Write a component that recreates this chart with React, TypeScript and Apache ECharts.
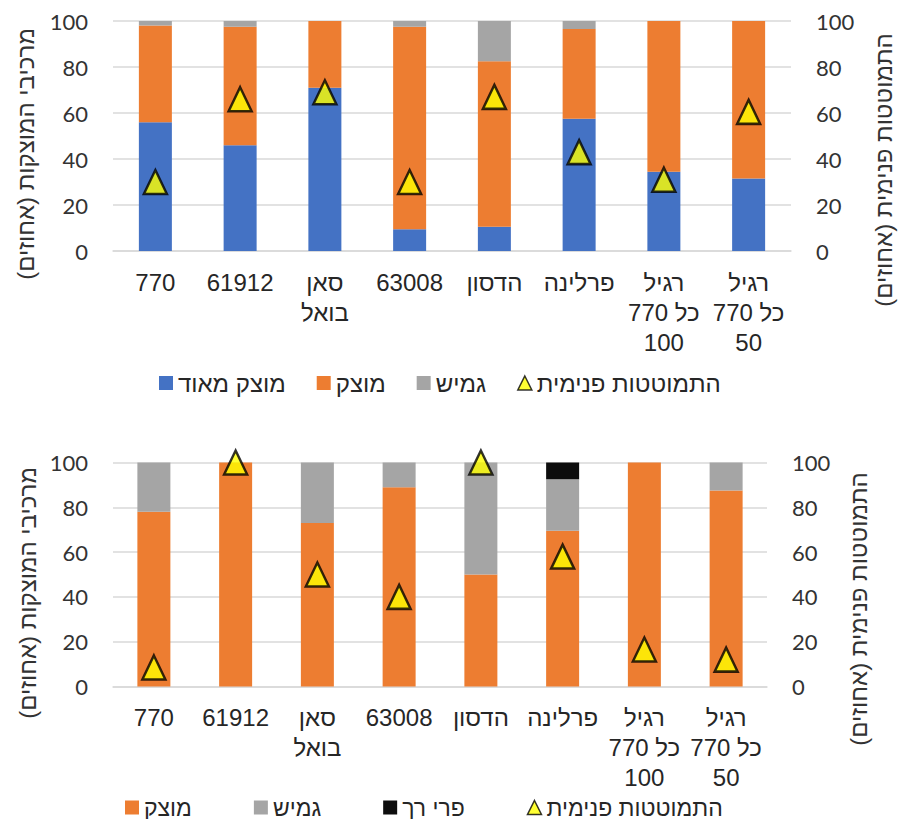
import React, { useEffect, useRef } from 'react';
import * as echarts from 'echarts';

// ---- data ----
const categories = [
  '770',
  '61912',
  'סאן\nבואל',
  '63008',
  'הדסון',
  'פרלינה',
  'רגיל\nכל 770\n100',
  'רגיל\nכל 770\n50',
];

// top chart (percent)
const topVeryFirm = [56, 46, 71, 9.5, 10.5, 57.5, 34.5, 31.5];
const topFirm = [42, 51.5, 29, 88, 72, 39, 65.5, 68.5];
const topFlexible = [2, 2.5, 0, 2.5, 17.5, 3.5, 0, 0];
const topCollapse = [30, 66, 69, 30, 67, 43, 31, 60.5];

// bottom chart (percent)
const botFirm = [78, 100, 73, 89, 50, 69.5, 100, 87.5];
const botFlexible = [22, 0, 27, 11, 50, 23, 0, 12.5];
const botSoft = [0, 0, 0, 0, 0, 7.5, 0, 0];
const botCollapse = [8.5, 100, 50, 40, 100, 58, 16.5, 12];

const nameVeryFirm = 'מוצק מאוד';
const nameFirm = 'מוצק';
const nameFlexible = 'גמיש';
const nameSoft = 'פרי רך';
const nameCollapse = 'התמוטטות פנימית';

const leftTitle = 'מרכיבי המוצקות (אחוזים)\u200F';
const rightTitle = 'התמוטטות פנימית (אחוזים)\u200F';

const BLUE = '#4472C4';
const ORANGE = '#ED7D31';
const GRAY = '#A5A5A5';
const BLACK = '#0D0D0D';
const YELLOW = '#FFFF00';
const GRID = '#D9D9D9';

const HEB = "'Liberation Sans', Arial, sans-serif";
const NUM = "Lato, 'Open Sans', sans-serif";

export default function App() {
  const ref = useRef<HTMLDivElement>(null);

  useEffect(() => {
    if (!ref.current) return;
    const chart = echarts.init(ref.current, undefined, { renderer: 'svg' });

    const yBase = (show: boolean, position: 'left' | 'right', gridIndex: number) => ({
      type: 'value',
      gridIndex,
      position,
      min: 0,
      max: 100,
      interval: 20,
      axisLine: { show: false },
      axisTick: { show: false },
      splitLine: { show, lineStyle: { color: GRID, width: 1.5 } },
      axisLabel: {
        fontSize: 22,
        fontFamily: NUM,
        color: '#333333',
        margin: 25,
      },
    });

    const xBase = (gridIndex: number) => ({
      type: 'category',
      gridIndex,
      data: categories,
      axisTick: { show: false },
      axisLine: { show: true, lineStyle: { color: GRID, width: 1.5 } },
      axisLabel: {
        interval: 0,
        fontSize: 24,
        lineHeight: 30,
        fontFamily: HEB,
        color: '#262626',
        margin: 16,
      },
    });

    const triStyle = {
      color: YELLOW,
      borderColor: '#000000',
      borderWidth: 2.5,
    };

    const titleText = (x: number, y: number, text: string) => ({
      type: 'text',
      x,
      y,
      rotation: Math.PI / 2,
      style: {
        text,
        fontSize: 24,
        fontFamily: HEB,
        fill: '#333333',
        align: 'center',
        verticalAlign: 'middle',
        textAlign: 'center',
        textVerticalAlign: 'middle',
      },
    });

    const option: any = {
      animation: false,
      backgroundColor: '#ffffff',
      grid: [
        { left: 113, top: 21, width: 678, height: 230 },
        { left: 113, top: 462.5, width: 654, height: 224 },
      ],
      xAxis: [xBase(0), xBase(1)],
      yAxis: [
        yBase(true, 'left', 0),
        yBase(false, 'right', 0),
        yBase(true, 'left', 1),
        yBase(false, 'right', 1),
      ],
      legend: [
        {
          left: 154,
          top: 366,
          itemWidth: 14,
          itemHeight: 14,
          itemGap: 31,
          textStyle: { fontSize: 24, fontFamily: HEB, color: '#262626' },
          data: [
            { name: nameVeryFirm, icon: 'rect' },
            { name: nameFirm, icon: 'rect' },
            { name: nameFlexible, icon: 'rect' },
            { name: nameCollapse, icon: 'triangle', itemStyle: { borderWidth: 1.5 } },
          ],
        },
        {
          left: 120,
          top: 791,
          itemWidth: 14,
          itemHeight: 14,
          itemGap: 62,
          textStyle: { fontSize: 23, fontFamily: HEB, color: '#262626' },
          data: [
            { name: nameFirm, icon: 'rect' },
            { name: nameFlexible, icon: 'rect' },
            { name: nameSoft, icon: 'rect' },
            { name: nameCollapse, icon: 'triangle', itemStyle: { borderWidth: 1.5 } },
          ],
        },
      ],
      series: [
        { name: nameVeryFirm, type: 'bar', stack: 'top', xAxisIndex: 0, yAxisIndex: 0, barWidth: 33, itemStyle: { color: BLUE }, data: topVeryFirm },
        { name: nameFirm, type: 'bar', stack: 'top', xAxisIndex: 0, yAxisIndex: 0, barWidth: 33, itemStyle: { color: ORANGE }, data: topFirm },
        { name: nameFlexible, type: 'bar', stack: 'top', xAxisIndex: 0, yAxisIndex: 0, barWidth: 33, itemStyle: { color: GRAY }, data: topFlexible },
        { name: nameCollapse, type: 'scatter', xAxisIndex: 0, yAxisIndex: 1, symbol: 'triangle', symbolSize: [23, 24], itemStyle: triStyle, data: topCollapse, z: 5 },

        { name: nameFirm, type: 'bar', stack: 'bot', xAxisIndex: 1, yAxisIndex: 2, barWidth: 33, itemStyle: { color: ORANGE }, data: botFirm },
        { name: nameFlexible, type: 'bar', stack: 'bot', xAxisIndex: 1, yAxisIndex: 2, barWidth: 33, itemStyle: { color: GRAY }, data: botFlexible },
        { name: nameSoft, type: 'bar', stack: 'bot', xAxisIndex: 1, yAxisIndex: 2, barWidth: 33, itemStyle: { color: BLACK }, data: botSoft },
        { name: nameCollapse, type: 'scatter', xAxisIndex: 1, yAxisIndex: 3, symbol: 'triangle', symbolSize: [23, 24], itemStyle: triStyle, data: botCollapse, z: 5 },
      ],
      graphic: [
        titleText(25, 154, leftTitle),
        titleText(883, 170, rightTitle),
        titleText(27, 593, leftTitle),
        titleText(858, 609, rightTitle),
      ],
    };

    chart.setOption(option);
    return () => chart.dispose();
  }, []);

  return (
    <div
      ref={ref}
      style={{ position: 'fixed', left: 0, top: 0, width: 904, height: 819, background: '#fff' }}
    />
  );
}
